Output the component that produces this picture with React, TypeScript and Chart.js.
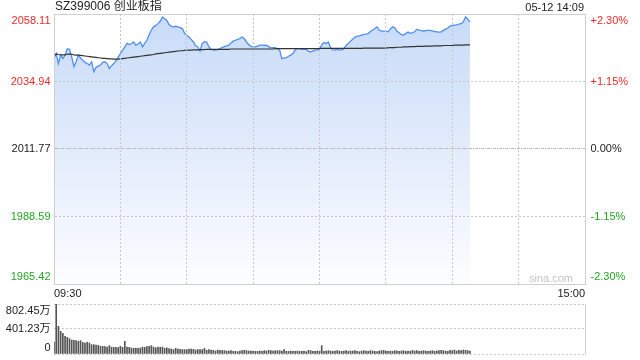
import React, { useEffect, useRef } from 'react';
import { Chart, registerables } from 'chart.js';

Chart.register(...registerables);

const TITLE = 'SZ399006 创业板指';
const DATE_LABEL = '05-12 14:09';
const PREV_CLOSE = 2011.77;
const PRICE_TICKS = [1965.42, 1988.59, 2011.77, 2034.94, 2058.11];
const PCT_TICKS = ['-2.30%', '-1.15%', '0.00%', '+1.15%', '+2.30%'];
const VOL_TICKS = [0, 401.23, 802.45];
const VOL_TICK_LABELS = ['0', '401.23万', '802.45万'];
const WATERMARK = 'sina.com';

// 241 minute slots: 09:30–11:30 then 13:01–15:00
const TIME_LABELS: string[] = [];
for (let i = 0; i <= 240; i++) {
  const base = i <= 120 ? 9 * 60 + 30 + i : 13 * 60 + (i - 120);
  const h = Math.floor(base / 60);
  const m = base % 60;
  TIME_LABELS.push(`${String(h).padStart(2, '0')}:${String(m).padStart(2, '0')}`);
}

const PRICE = [
  2042.8, 2044.5, 2041.1, 2044.0, 2042.8, 2044.0, 2046.2, 2046.0, 2043.4, 2040.0,
  2041.7, 2044.0, 2043.0, 2042.2, 2041.5, 2041.1, 2040.6, 2041.7, 2038.3, 2039.8,
  2040.2, 2040.6, 2041.5, 2041.7, 2041.1, 2039.4, 2040.3, 2041.1, 2042.0, 2043.2,
  2044.5, 2045.6, 2046.8, 2048.0, 2047.6, 2047.9, 2048.5, 2047.4, 2047.8, 2048.5,
  2046.8, 2048.0, 2049.1, 2051.0, 2052.6, 2053.7, 2054.2, 2054.8, 2055.6, 2057.1,
  2056.5, 2055.9, 2054.5, 2053.9, 2053.7, 2053.9, 2053.7, 2053.4, 2053.1, 2051.5,
  2050.8, 2050.2, 2049.4, 2048.5, 2047.2, 2046.8, 2045.4, 2048.0, 2048.6, 2048.5,
  2046.9, 2046.0, 2045.7, 2045.7, 2045.9, 2046.2, 2046.6, 2046.9, 2047.2, 2047.4,
  2048.2, 2048.8, 2049.1, 2049.4, 2049.7, 2050.2, 2049.6, 2048.5, 2047.6, 2047.0,
  2046.8, 2046.8, 2047.1, 2047.4, 2047.4, 2047.3, 2047.4, 2046.9, 2046.5, 2046.6,
  2046.6, 2046.2, 2045.7, 2042.8, 2043.0, 2043.1, 2043.6, 2044.0, 2044.5, 2045.8,
  2046.2, 2046.2, 2046.0, 2046.1, 2046.0, 2045.3, 2045.1, 2045.4, 2045.7, 2045.8,
  2046.0, 2047.5, 2048.3, 2048.0, 2048.5, 2046.5, 2045.8, 2045.7, 2046.0, 2045.8,
  2045.7, 2046.2, 2047.3, 2048.0, 2048.8, 2049.4, 2050.2, 2050.4, 2050.6, 2050.9,
  2051.1, 2051.2, 2051.4, 2052.1, 2052.6, 2053.1, 2053.7, 2052.5, 2052.2, 2052.2,
  2052.2, 2052.0, 2052.9, 2053.7, 2053.4, 2052.2, 2051.7, 2051.0, 2050.9, 2051.4,
  2051.9, 2051.5, 2051.6, 2052.0, 2052.9, 2052.6, 2052.5, 2052.2, 2052.4, 2052.5,
  2052.5, 2052.3, 2052.1, 2052.0, 2051.9, 2052.0, 2052.5, 2052.9, 2053.3, 2054.0,
  2054.2, 2054.3, 2054.4, 2054.6, 2054.8, 2055.4, 2057.1, 2056.3, 2055.4,
];

const AVG = [
  2043.6, 2044.4, 2044.2, 2044.1, 2044.1, 2044.1, 2044.3, 2044.4, 2044.3, 2044.1,
  2044.0, 2044.0, 2043.9, 2043.8, 2043.7, 2043.6, 2043.5, 2043.4, 2043.3, 2043.2,
  2043.1, 2043.0, 2042.9, 2042.9, 2042.8, 2042.7, 2042.7, 2042.6, 2042.6, 2042.6,
  2042.7, 2042.8, 2042.9, 2043.0, 2043.1, 2043.2, 2043.3, 2043.4, 2043.5, 2043.6,
  2043.7, 2043.8, 2043.9, 2044.0, 2044.1, 2044.2, 2044.4, 2044.5, 2044.6, 2044.7,
  2044.8, 2044.9, 2045.0, 2045.1, 2045.2, 2045.3, 2045.4, 2045.5, 2045.5, 2045.6,
  2045.6, 2045.7, 2045.7, 2045.8, 2045.8, 2045.8, 2045.9, 2045.9, 2045.9, 2046.0,
  2046.0, 2046.0, 2046.0, 2046.0, 2046.0, 2046.0, 2046.0, 2046.0, 2046.0, 2046.0,
  2046.1, 2046.1, 2046.1, 2046.1, 2046.1, 2046.1, 2046.1, 2046.1, 2046.1, 2046.1,
  2046.1, 2046.1, 2046.1, 2046.1, 2046.1, 2046.1, 2046.1, 2046.1, 2046.1, 2046.1,
  2046.2, 2046.2, 2046.2, 2046.2, 2046.2, 2046.2, 2046.2, 2046.2, 2046.2, 2046.2,
  2046.2, 2046.2, 2046.2, 2046.2, 2046.2, 2046.2, 2046.2, 2046.2, 2046.2, 2046.2,
  2046.3, 2046.3, 2046.3, 2046.3, 2046.3, 2046.3, 2046.3, 2046.3, 2046.3, 2046.3,
  2046.3, 2046.3, 2046.3, 2046.3, 2046.3, 2046.3, 2046.3, 2046.3, 2046.3, 2046.3,
  2046.4, 2046.4, 2046.4, 2046.4, 2046.4, 2046.4, 2046.4, 2046.4, 2046.4, 2046.4,
  2046.5, 2046.5, 2046.6, 2046.6, 2046.6, 2046.7, 2046.7, 2046.7, 2046.8, 2046.8,
  2046.8, 2046.9, 2046.9, 2046.9, 2047.0, 2047.0, 2047.0, 2047.0, 2047.1, 2047.1,
  2047.1, 2047.1, 2047.2, 2047.2, 2047.2, 2047.2, 2047.3, 2047.3, 2047.3, 2047.3,
  2047.3, 2047.4, 2047.4, 2047.4, 2047.4, 2047.4, 2047.5, 2047.5, 2047.5,
];

// volume in 万
const VOLUME = [
  190, 802, 444, 364, 330, 284, 268, 246, 225, 219,
  214, 205, 214, 187, 177, 190, 177, 150, 150, 144,
  140, 123, 123, 118, 110, 134, 110, 107, 107, 105,
  123, 107, 203, 112, 107, 96, 91, 96, 93, 96,
  112, 107, 118, 123, 134, 112, 100, 112, 107, 112,
  91, 100, 85, 80, 70, 91, 80, 75, 70, 70,
  70, 80, 80, 75, 64, 70, 70, 70, 91, 59,
  70, 64, 59, 48, 64, 59, 54, 54, 48, 48,
  54, 43, 43, 37, 48, 54, 59, 54, 48, 48,
  48, 43, 43, 48, 43, 54, 48, 59, 54, 48,
  54, 54, 54, 48, 70, 43, 43, 48, 43, 43,
  48, 43, 43, 48, 37, 59, 54, 43, 43, 48,
  45, 134, 43, 48, 54, 48, 43, 48, 54, 48,
  43, 48, 54, 43, 48, 48, 54, 43, 37, 48,
  54, 48, 43, 54, 48, 43, 37, 48, 54, 59,
  48, 43, 48, 43, 54, 48, 43, 48, 54, 43,
  48, 43, 59, 48, 54, 43, 48, 54, 48, 43,
  48, 54, 43, 48, 54, 59, 54, 48, 43, 59,
  54, 64, 48, 59, 54, 64, 59, 54, 48,
];

const RED = '#ee2a2a';
const GREEN = '#22a822';
const TEXT = '#222222';
const FRAME = '#cfcfcf';
const GRID = '#c8c8c8';
const FONT11 = '11px Arial, "Liberation Sans", "Noto Sans CJK SC", sans-serif';
const FONT12 = '12px Arial, "Liberation Sans", "Noto Sans CJK SC", sans-serif';

const mainLabels = {
  id: 'mainLabels',
  afterDraw(chart: any) {
    const { ctx, chartArea, scales } = chart;
    const y = scales.y;
    ctx.save();
    ctx.font = FONT11;
    ctx.textBaseline = 'middle';
    PRICE_TICKS.forEach((v, i) => {
      let py = y.getPixelForValue(v);
      if (i === PRICE_TICKS.length - 1) py += 6.8;
      if (i === 0) py -= 7;
      ctx.fillStyle = v > PREV_CLOSE + 0.001 ? RED : v < PREV_CLOSE - 0.001 ? GREEN : TEXT;
      ctx.textAlign = 'right';
      ctx.fillText(v.toFixed(2), chartArea.left - 3.5, py);
      ctx.textAlign = 'left';
      ctx.fillText(PCT_TICKS[i], chartArea.right + 5.5, py);
    });
    ctx.fillStyle = TEXT;
    ctx.font = FONT12;
    ctx.textAlign = 'left';
    ctx.fillText(TITLE, chartArea.left + 1, 7);
    ctx.font = FONT11;
    ctx.textAlign = 'right';
    ctx.fillText(DATE_LABEL, chartArea.right - 1, 7.5);
    ctx.fillStyle = '#c4c4c4';
    ctx.fillText(WATERMARK, chartArea.right - 12, chartArea.bottom - 5);
    ctx.restore();
  },
};

const volLabels = {
  id: 'volLabels',
  afterDraw(chart: any) {
    const { ctx, chartArea, scales } = chart;
    const y = scales.y;
    ctx.save();
    ctx.font = FONT11;
    ctx.textBaseline = 'middle';
    ctx.textAlign = 'right';
    ctx.fillStyle = TEXT;
    VOL_TICKS.forEach((v, i) => {
      let py = y.getPixelForValue(v);
      if (i === VOL_TICKS.length - 1) py += 7.4;
      if (i === 0) py -= 6;
      ctx.fillText(VOL_TICK_LABELS[i], chartArea.left - 3.5, py);
    });
    ctx.restore();
  },
};

export default function App() {
  const mainRef = useRef<HTMLCanvasElement>(null);
  const volRef = useRef<HTMLCanvasElement>(null);

  useEffect(() => {
    const main = new Chart(mainRef.current!, {
      type: 'line',
      data: {
        labels: TIME_LABELS,
        datasets: [
          {
            label: 'avg',
            data: AVG,
            borderColor: '#333333',
            borderWidth: 1.2,
            pointRadius: 0,
            fill: false,
            tension: 0,
          },
          {
            label: 'price',
            data: PRICE,
            borderColor: '#4f8ff2',
            borderWidth: 1.3,
            pointRadius: 0,
            tension: 0,
            fill: 'start',
            backgroundColor: (c: any) => {
              const { chart } = c;
              const area = chart.chartArea;
              if (!area) return '#dce8fb';
              const g = chart.ctx.createLinearGradient(0, area.top, 0, area.bottom);
              g.addColorStop(0, '#c7dbf8');
              g.addColorStop(0.45, '#e0eafb');
              g.addColorStop(1, '#fcfdff');
              return g;
            },
          },
        ],
      },
      options: {
        animation: false,
        responsive: false,
        devicePixelRatio: 1,
        layout: { padding: { top: 14, left: 0, right: 0, bottom: 0 } },
        plugins: { legend: { display: false }, tooltip: { enabled: false } },
        scales: {
          x: {
            type: 'category',
            offset: false,
            afterFit: (s: any) => { s.height = 16; },
            grid: {
              z: 1,
              drawTicks: false,
              color: (c: any) => (c.index % 30 === 0 && c.index > 0 && c.index < 240 ? GRID : 'rgba(0,0,0,0)'),
            },
            border: { color: FRAME, dash: [2, 2], z: 1 },
            ticks: {
              autoSkip: false,
              maxRotation: 0,
              minRotation: 0,
              align: 'inner',
              padding: 3,
              color: TEXT,
              font: { size: 11, family: 'Arial, "Liberation Sans", sans-serif' },
              callback: (_v: any, i: number) => (i === 0 || i === 240 ? TIME_LABELS[i] : ''),
            },
          },
          y: {
            type: 'linear',
            position: 'left',
            min: PRICE_TICKS[0],
            max: PRICE_TICKS[PRICE_TICKS.length - 1],
            afterBuildTicks: (s: any) => { s.ticks = PRICE_TICKS.map((v) => ({ value: v })); },
            afterFit: (s: any) => { s.width = 54; },
            ticks: { display: false },
            grid: {
              z: 1,
              drawTicks: false,
              color: (c: any) => (c.index === 0 ? 'rgba(0,0,0,0)' : c.index === 4 ? FRAME : c.index === 2 ? '#b8b8b8' : GRID),
            },
            border: {
              z: 1,
              color: FRAME,
              dash: (c: any) => (c.index === 4 ? [] : c.index === 2 ? [3, 1, 1, 1] : [2, 2]),
            },
          },
          y2: {
            type: 'linear',
            position: 'right',
            min: PRICE_TICKS[0],
            max: PRICE_TICKS[PRICE_TICKS.length - 1],
            afterFit: (s: any) => { s.width = 55; },
            ticks: { display: false },
            grid: { display: false, drawTicks: false },
            border: { color: FRAME, z: 1 },
          },
        },
      },
      plugins: [mainLabels],
    } as any);

    const vol = new Chart(volRef.current!, {
      type: 'bar',
      data: {
        labels: TIME_LABELS,
        datasets: [
          {
            label: 'volume',
            data: VOLUME,
            backgroundColor: '#555555',
            barThickness: 1,
          },
        ],
      },
      options: {
        animation: false,
        responsive: false,
        devicePixelRatio: 1,
        layout: { padding: { top: 4, left: 0, right: 0, bottom: 6 } },
        plugins: { legend: { display: false }, tooltip: { enabled: false } },
        scales: {
          x: { type: 'category', offset: false, display: false },
          y: {
            type: 'linear',
            position: 'left',
            min: 0,
            max: VOL_TICKS[VOL_TICKS.length - 1],
            afterBuildTicks: (s: any) => { s.ticks = VOL_TICKS.map((v) => ({ value: v })); },
            afterFit: (s: any) => { s.width = 54; },
            ticks: { display: false },
            grid: { drawTicks: false, color: GRID },
            border: { display: false, dash: [2, 2] },
          },
          y2: {
            type: 'linear',
            position: 'right',
            min: 0,
            max: VOL_TICKS[VOL_TICKS.length - 1],
            afterFit: (s: any) => { s.width = 55; },
            ticks: { display: false },
            grid: { display: false, drawTicks: false },
            border: { color: FRAME },
          },
        },
      },
      plugins: [volLabels],
    } as any);

    return () => {
      main.destroy();
      vol.destroy();
    };
  }, []);

  return (
    <div style={{ position: 'fixed', left: 0, top: 0, width: 640, height: 360, background: '#fff', overflow: 'hidden' }}>
      <canvas ref={mainRef} width={640} height={300} style={{ position: 'absolute', left: 0, top: 0, width: 640, height: 300 }} />
      <canvas ref={volRef} width={640} height={60} style={{ position: 'absolute', left: 0, top: 300, width: 640, height: 60 }} />
    </div>
  );
}
